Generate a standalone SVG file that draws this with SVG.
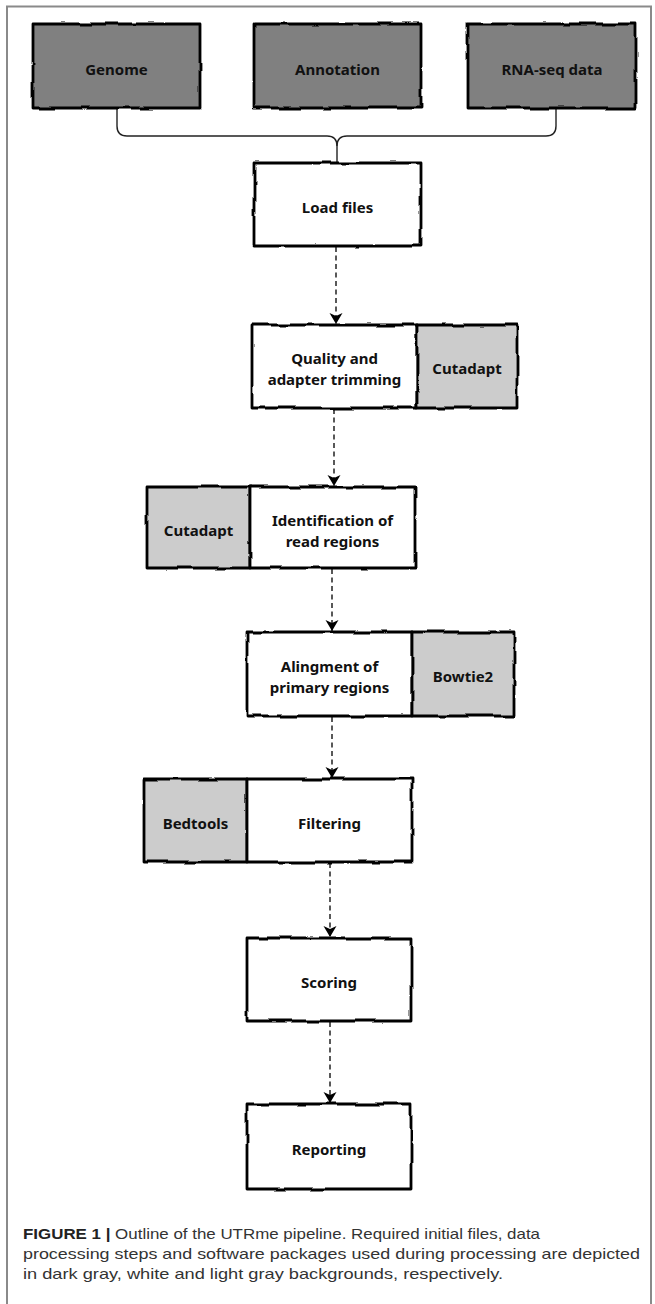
<svg xmlns="http://www.w3.org/2000/svg" width="655" height="1304" viewBox="0 0 655 1304">
<style>
.box{stroke:#000;stroke-width:2.8;stroke-linejoin:round;filter:url(#rough)}
.dark{fill:#808080}
.white{fill:#fff}
.light{fill:#cccccc}
.lbl{font-family:"Noto Sans","DejaVu Sans",sans-serif;font-weight:700;font-size:15px;fill:#111;text-anchor:middle}
.conn{fill:none;stroke:#222;stroke-width:1.4}
.dash{fill:none;stroke:#222;stroke-width:1.5;stroke-dasharray:5 3.5}
.cap{font-family:"Liberation Sans",Arial,sans-serif;font-size:15px;fill:#333}
</style>
<defs>
<filter id="rough" x="-5%" y="-10%" width="110%" height="120%">
<feTurbulence type="fractalNoise" baseFrequency="0.04" numOctaves="2" seed="4" result="n"/>
<feDisplacementMap in="SourceGraphic" in2="n" scale="4" xChannelSelector="R" yChannelSelector="G"/>
</filter>
<marker id="arr" markerWidth="14" markerHeight="14" refX="7" refY="12" orient="0" markerUnits="userSpaceOnUse">
<path d="M0.5,1 L7,12 L13.5,1 L7,4 Z" fill="#000"/>
</marker>
</defs>
<rect width="655" height="1304" fill="#fff"/>
<path d="M7,1304 V6.5 H651 V1304" fill="none" stroke="#8a8a8a" stroke-width="2"/>

<g id="connectors">
<path class="conn" d="M117,108 V126 Q117,136 127,136 H327 Q337,136 337,146 V163"/>
<path class="conn" d="M556,108 V126 Q556,136 546,136 H347 Q337,136 337,146"/>
<path class="dash" d="M336,247 V324" marker-end="url(#arr)"/>
<path class="dash" d="M334,409 V486" marker-end="url(#arr)"/>
<path class="dash" d="M332,569 V631" marker-end="url(#arr)"/>
<path class="dash" d="M332,717 V778" marker-end="url(#arr)"/>
<path class="dash" d="M330,863 V937" marker-end="url(#arr)"/>
<path class="dash" d="M330,1022 V1103" marker-end="url(#arr)"/>
</g>

<g id="genome"><rect class="box dark" x="33" y="24" width="167" height="84"/><text class="lbl" x="116.5" y="75">Genome</text></g>
<g id="annotation"><rect class="box dark" x="254" y="24" width="167" height="84"/><text class="lbl" x="337.5" y="75">Annotation</text></g>
<g id="rnaseq"><rect class="box dark" x="468" y="24" width="168" height="84"/><text class="lbl" x="552" y="75">RNA-seq data</text></g>

<g id="load"><rect class="box white" x="254" y="163" width="167" height="83"/><text class="lbl" x="337.5" y="213">Load files</text></g>

<g id="quality">
<rect class="box white" x="252" y="325" width="165" height="83"/>
<rect class="box light" x="417" y="325" width="100" height="83"/>
<text class="lbl" x="334.5" y="364">Quality and</text>
<text class="lbl" x="334.5" y="385">adapter trimming</text>
<text class="lbl" x="467" y="374">Cutadapt</text>
</g>

<g id="identification">
<rect class="box light" x="147" y="487" width="103" height="81"/>
<rect class="box white" x="250" y="487" width="165" height="81"/>
<text class="lbl" x="198.5" y="536">Cutadapt</text>
<text class="lbl" x="332.5" y="526">Identification of</text>
<text class="lbl" x="332.5" y="547">read regions</text>
</g>

<g id="alignment">
<rect class="box white" x="247" y="632" width="165" height="84"/>
<rect class="box light" x="412" y="632" width="102" height="84"/>
<text class="lbl" x="329.5" y="672">Alingment of</text>
<text class="lbl" x="329.5" y="693">primary regions</text>
<text class="lbl" x="463" y="682">Bowtie2</text>
</g>

<g id="filtering">
<rect class="box light" x="144" y="779" width="103" height="83"/>
<rect class="box white" x="247" y="779" width="165" height="83"/>
<text class="lbl" x="195.5" y="829">Bedtools</text>
<text class="lbl" x="329.5" y="829">Filtering</text>
</g>

<g id="scoring"><rect class="box white" x="247" y="938" width="164" height="83"/><text class="lbl" x="329" y="988">Scoring</text></g>

<g id="reporting"><rect class="box white" x="247" y="1104" width="164" height="85"/><text class="lbl" x="329" y="1155">Reporting</text></g>

<g id="caption">
<text class="cap" x="23" y="1239" textLength="517" lengthAdjust="spacingAndGlyphs"><tspan font-weight="700" fill="#222">FIGURE 1 |</tspan> Outline of the UTRme pipeline. Required initial files, data</text>
<text class="cap" x="23" y="1259" textLength="617" lengthAdjust="spacingAndGlyphs">processing steps and software packages used during processing are depicted</text>
<text class="cap" x="23" y="1279" textLength="480" lengthAdjust="spacingAndGlyphs">in dark gray, white and light gray backgrounds, respectively.</text>
</g>
</svg>
